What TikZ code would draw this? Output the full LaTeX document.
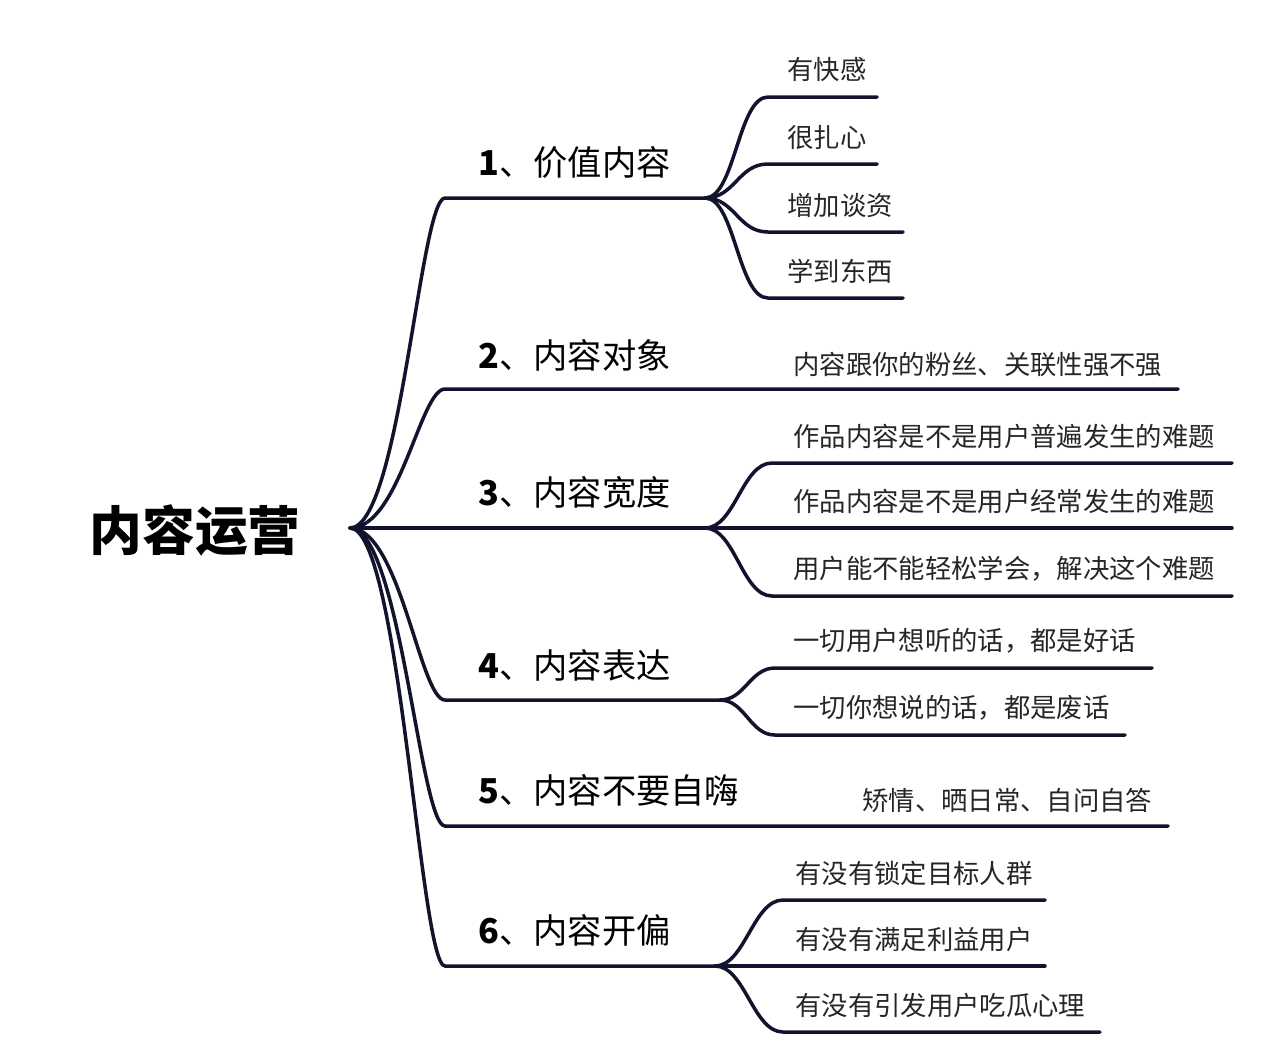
\documentclass[tikz,border=0pt]{standalone}
\usepackage{fontspec}
\setmainfont{Noto Sans CJK SC}
\usepackage{xcolor}
\definecolor{ink}{HTML}{12142E}

\begin{document}
\begin{tikzpicture}[
x=0.02cm, y=-0.02cm,
branch/.style={draw=ink, line width=2pt, line cap=round},
topic/.style={anchor=west, inner sep=0pt, text=black, font=\fontsize{19.5}{22}\selectfont},
leaf/.style={anchor=west, inner sep=0pt, text=black!85, font=\fontsize{15}{18}\selectfont}
]
\useasboundingbox (0,0) rectangle (1280,1063);

\node[font=\fontsize{30}{36}\selectfont\bfseries] (root) at (195,530) {内容运营};
\coordinate (hub) at (350,528);

% main topics
\node[topic] (t1) at (478,162) {\textbf{1}、价值内容};
\node[topic] (t2) at (478,355) {\textbf{2}、内容对象};
\node[topic] (t3) at (478,493) {\textbf{3}、内容宽度};
\node[topic] (t4) at (478,665) {\textbf{4}、内容表达};
\node[topic] (t5) at (478,790) {\textbf{5}、内容不要自嗨};
\node[topic] (t6) at (478,930) {\textbf{6}、内容开偏};

\coordinate (t1s) at (445,198); \coordinate (t1e) at (705,198);
\coordinate (t2s) at (445,389); \coordinate (t2e) at (1178,389);
\coordinate (t3e) at (705,528);
\coordinate (t4s) at (445,700); \coordinate (t4e) at (720,700);
\coordinate (t5s) at (445,826); \coordinate (t5e) at (1168,826);
\coordinate (t6s) at (445,966); \coordinate (t6e) at (715,966);

\draw[branch] (hub) .. controls +(50,0) and +(-25,0) .. (t1s) -- (t1e);
\draw[branch] (hub) .. controls +(50,0) and +(-25,0) .. (t2s) -- (t2e);
\draw[branch] (hub) -- (t3e);
\draw[branch] (hub) .. controls +(50,0) and +(-25,0) .. (t4s) -- (t4e);
\draw[branch] (hub) .. controls +(50,0) and +(-25,0) .. (t5s) -- (t5e);
\draw[branch] (hub) .. controls +(50,0) and +(-25,0) .. (t6s) -- (t6e);

% leaves
\foreach \y/\e/\txt [count=\i] in {97/877/有快感, 164/877/很扎心, 232/903/增加谈资, 298/903/学到东西} {
  \coordinate (a\i s) at (768,\y); \coordinate (a\i e) at (\e,\y);
  \draw[branch] (t1e) .. controls +(30,0) and +(-30,0) .. (a\i s) -- (a\i e);
  \node[leaf] (a\i) at (787,\y-27) {\txt};
}
\node[leaf] (b1) at (793,364) {内容跟你的粉丝、关联性强不强};

\foreach \y/\txt [count=\i] in {463/作品内容是不是用户普遍发生的难题, 528/作品内容是不是用户经常发生的难题, 596/用户能不能轻松学会，解决这个难题} {
  \coordinate (c\i s) at (772,\y); \coordinate (c\i e) at (1232,\y);
  \draw[branch] (t3e) .. controls +(30,0) and +(-30,0) .. (c\i s) -- (c\i e);
  \node[leaf] (c\i) at (793,\y-27) {\txt};
}

\foreach \y/\e/\txt [count=\i] in {668/1152/一切用户想听的话，都是好话, 735/1125/一切你想说的话，都是废话} {
  \coordinate (d\i s) at (775,\y); \coordinate (d\i e) at (\e,\y);
  \draw[branch] (t4e) .. controls +(25,0) and +(-25,0) .. (d\i s) -- (d\i e);
  \node[leaf] (d\i) at (793,\y-27) {\txt};
}
\node[leaf] (e1) at (862,800) {矫情、晒日常、自问自答};

\foreach \y/\e/\txt [count=\i] in {900/1045/有没有锁定目标人群, 966/1045/有没有满足利益用户, 1032/1100/有没有引发用户吃瓜心理} {
  \coordinate (f\i s) at (783,\y); \coordinate (f\i e) at (\e,\y);
  \draw[branch] (t6e) .. controls +(30,0) and +(-30,0) .. (f\i s) -- (f\i e);
  \node[leaf] (f\i) at (795,\y-27) {\txt};
}
\end{tikzpicture}
\end{document}
